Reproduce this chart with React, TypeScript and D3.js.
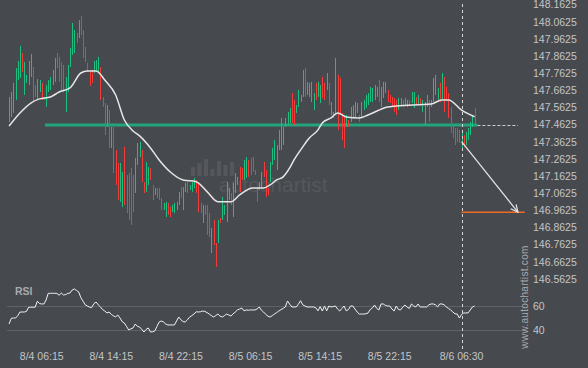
import React from 'react';
import * as d3 from 'd3';

const opens: number[] = [
147.474,147.503,147.527,147.603,147.719,147.731,147.877,147.632,147.702,147.690,
147.737,147.795,147.690,147.603,147.649,147.702,147.603,147.562,147.649,147.661,
147.690,147.708,147.877,147.854,147.824,147.807,147.533,147.649,147.795,147.865,
147.877,147.993,147.964,148.093,148.011,147.912,147.819,147.766,147.778,147.760,
147.766,147.766,147.795,147.620,147.585,147.445,147.544,147.323,147.445,147.311,
147.235,147.008,146.978,147.329,147.165,147.177,147.206,147.165,147.060,147.224,
147.270,147.311,147.124,147.066,147.107,147.206,147.107,147.048,147.089,147.089,
147.031,146.961,146.920,147.002,146.978,146.949,146.943,146.961,146.990,147.095,
146.961,147.066,147.124,147.078,147.066,147.089,147.136,147.119,147.002,146.885,
146.990,146.990,146.943,146.710,146.903,146.768,146.768,146.914,146.903,146.932,
146.891,147.019,147.060,146.920,147.060,147.107,147.212,147.206,147.136,147.148,
147.253,147.264,147.270,147.194,147.095,147.078,147.089,147.241,147.194,147.089,
147.124,147.224,147.253,147.194,147.311,147.311,147.340,147.445,147.457,147.468,
147.643,147.603,147.527,147.562,147.591,147.620,147.789,147.632,147.620,147.591,
147.544,147.702,147.620,147.585,147.737,147.702,147.661,147.702,147.515,147.498,
147.527,147.749,147.731,147.527,147.503,147.445,147.486,147.474,147.498,147.503,
147.527,147.515,147.503,147.544,147.556,147.573,147.591,147.591,147.603,147.620,
147.719,147.562,147.614,147.643,147.661,147.632,147.620,147.614,147.603,147.544,
147.573,147.603,147.573,147.562,147.603,147.585,147.556,147.620,147.573,147.614,
147.533,147.457,147.562,147.603,147.562,147.591,147.632,147.603,147.702,147.603,
147.737,147.679,147.643,147.562,147.457,147.439,147.439,147.428,147.323,147.398,
147.340,147.369,147.398,147.445,147.556
];

const closes: number[] = [
147.620,147.649,147.702,147.789,147.830,147.918,147.766,147.824,147.749,147.830,
147.871,147.591,147.620,147.725,147.719,147.603,147.620,147.690,147.719,147.737,
147.778,147.848,147.789,147.708,147.661,147.649,147.737,147.807,147.906,148.052,
148.011,147.935,148.069,147.982,147.848,147.824,147.766,147.684,147.702,147.830,
147.836,147.854,147.603,147.562,147.398,147.573,147.323,147.445,147.177,147.107,
147.019,147.235,147.183,146.990,146.943,146.903,146.874,146.949,147.264,147.352,
147.358,147.124,147.060,147.241,147.212,147.136,147.019,147.089,147.031,147.019,
146.961,147.002,147.008,146.932,146.920,146.990,147.002,147.008,147.066,147.031,
147.095,147.119,147.060,147.107,147.124,147.148,147.060,146.949,146.943,146.990,
146.932,146.815,146.804,146.856,146.757,146.629,146.903,146.885,147.037,146.990,
147.124,147.089,146.990,147.119,147.177,147.154,147.066,147.136,147.253,147.270,
147.154,147.165,147.183,147.165,147.008,147.124,147.183,147.154,147.037,147.048,
147.241,147.323,147.369,147.340,147.428,147.498,147.445,147.498,147.533,147.556,
147.468,147.457,147.573,147.661,147.632,147.778,147.620,147.708,147.702,147.708,
147.643,147.603,147.708,147.690,147.614,147.603,147.760,147.573,147.591,147.533,
147.848,147.428,147.527,147.369,147.323,147.515,147.445,147.562,147.573,147.591,
147.585,147.474,147.591,147.603,147.632,147.643,147.679,147.673,147.690,147.679,
147.591,147.679,147.708,147.708,147.591,147.585,147.562,147.533,147.515,147.614,
147.614,147.562,147.614,147.603,147.573,147.649,147.649,147.573,147.632,147.573,
147.603,147.591,147.632,147.474,147.603,147.731,147.749,147.673,147.591,147.760,
147.533,147.603,147.498,147.410,147.381,147.340,147.358,147.352,147.410,147.329,
147.416,147.439,147.474,147.515,147.457
];

const rsiValues: number[] = [
45,49.7,50,50,52,55,55,55,55.5,58.9,
59,59,59,64,62,61.7,61.7,65,70.5,70.6,
70.6,70.6,70.5,69,70.8,69.2,69.5,70.5,70.8,73.3,
74.2,73,71.7,67,64,61,60,59,58.75,62,
63.3,61,59.2,57,55.8,54.2,55,53,51.7,51,
52.5,50,47,45.8,43,40,41,41.7,45,43,
42.5,40.5,38.3,40.5,41.7,38.3,38.5,39.2,43,46.7,
47.5,46.7,45,44.2,44.2,44.2,44.2,47.5,50.8,48.5,
47,46.7,48.5,50.8,52,53.3,55.2,55,55.2,55.8,
55.5,54.5,53.3,52,50.8,52,53.3,51.5,50.8,52,
53.3,52.5,51.7,53.5,55,56.7,57.5,58.3,56,56.7,
56.5,56.7,56.7,56.7,57.5,59.2,56.5,55,53,51.5,
50.8,52,53.3,54.5,55.8,57,58,59.2,64.2,61.5,
59.2,59.2,59.2,61.5,64.4,61,60,59.2,59.2,59.2,
59.2,58.5,56,59.5,55.8,60,56,60,59.2,59.5,
60,57.5,55.8,58,60,56,57,60,60,57.5,
55,53.3,53.3,53.3,53.5,54.2,57,58.3,60.8,58,
56.7,61.7,61.7,60.5,60,60,57.5,55.8,60,57,
56.7,59.2,60.8,59,58,61.7,60,59.2,61.7,59.2,
59.2,59.2,59.2,61,61.7,61.7,61,59.2,61.7,61.7,
61,59.2,58,56.7,55,53.5,53.3,50,53,54.2,
54.2,54.2,56.7,59.2,60
];

const maPoints: [number, number][] = [
[0,147.451],[5,147.527],[10,147.585],[14,147.609],[19,147.620],[23,147.649],[28,147.673],
[33,147.760],[36,147.772],[40,147.772],[44,147.719],[49,147.632],[53,147.486],[57,147.422],
[60,147.393],[65,147.323],[69,147.253],[74,147.184],[80,147.136],[86,147.126],[91,147.068],
[96,147.009],[102,147.009],[106,147.049],[112,147.089],[117,147.089],[120,147.107],[123,147.136],
[126,147.154],[129,147.206],[131,147.253],[135,147.329],[138,147.381],[142,147.428],[144,147.469],
[148,147.498],[151,147.527],[155,147.504],[161,147.498],[165,147.515],[174,147.562],[178,147.568],
[194,147.579],[199,147.603],[202,147.603],[208,147.544],[214,147.505]
];

const priceTicks: string[] = [
'148.1625','148.0625','147.9625','147.8625','147.7625','147.6625','147.5625','147.4625',
'147.3625','147.2625','147.1625','147.0625','146.9625','146.8625','146.7625','146.6625','146.5625'
];
const rsiTicks: number[] = [60, 40];
const timeLabels: string[] = ['8/4 06:15','8/4 14:15','8/4 22:15','8/5 06:15','8/5 14:15','8/5 22:15','8/6 06:30'];
const timeLabelIdx: number[] = [15, 47, 79, 111, 143, 175, 208];

const supportLevel = 147.456;
const supportStartIdx = 16.5;
const patternEndIdx = 208;
const forecastStart: [number, number] = [208, 147.36];
const forecastEnd: [number, number] = [233.9, 146.948];
const targetEndIdx = 237;
const levelLineEndIdx = 215.3;

const BG = '#46494e';
const TXT = '#c3c5c7';
const GREEN = '#1bbf80';
const RED = '#f53a3a';
const FONT = '"Liberation Sans", Arial, sans-serif';

export default function App() {
  const x = d3.scaleLinear().domain([0, 214]).range([9.07, 474.6]);
  const y = d3.scaleLinear().domain([146.5625, 148.1625]).range([278.3, 4]);
  const yR = d3.scaleLinear().domain([40, 60]).range([330, 306]);

  const maLine = d3.line<[number, number]>()
    .x(d => x(d[0])).y(d => y(d[1])).curve(d3.curveMonotoneX)(maPoints) || '';
  const rsiLine = d3.line<number>()
    .x((_, i) => x(i)).y(d => yR(d))(rsiValues) || '';

  const ax = x(forecastStart[0]), ay = y(forecastStart[1]);
  const bx = x(forecastEnd[0]), by = y(forecastEnd[1]);
  const ang = Math.atan2(by - ay, bx - ax);
  const hl = 8, ha = 0.45;
  const h1 = [bx - hl * Math.cos(ang - ha), by - hl * Math.sin(ang - ha)];
  const h2 = [bx - hl * Math.cos(ang + ha), by - hl * Math.sin(ang + ha)];

  const vx = Math.round(x(patternEndIdx)) + 0.5;
  const levelY = y(supportLevel);
  const iconBars = [9, 13, 17, 7, 15, 11, 14];

  return (
    <svg width={588} height={368} style={{ position: 'absolute', left: 0, top: 0 }} fontFamily={FONT}>
      <rect x={0} y={0} width={588} height={368} fill={BG} />
      <g fill="#ffffff" opacity={0.08}>
        {iconBars.map((h, k) => (
          <rect key={k} x={191 + k * 6.5} y={176 - h} width={4} height={h} />
        ))}
        <text x={219} y={192} fontSize={21} fill="#ffffff">autochartist</text>
      </g>
      {rsiTicks.map(t => (
        <line key={t} x1={7} x2={525} y1={Math.round(yR(t)) + 0.5} y2={Math.round(yR(t)) + 0.5} stroke="#5f6266" strokeWidth={1} />
      ))}
      <line x1={x(supportStartIdx)} x2={x(levelLineEndIdx)} y1={levelY} y2={levelY} stroke="#23a57c" strokeWidth={3} />
      <line x1={x(levelLineEndIdx)} x2={518} y1={Math.round(levelY) + 0.5} y2={Math.round(levelY) + 0.5} stroke="#cfcfcf" strokeWidth={1} strokeDasharray="3,2" />
      {opens.map((o, i) => {
        const c = closes[i];
        const top = y(Math.max(o, c));
        const bot = y(Math.min(o, c));
        return (
          <rect key={i} x={Math.round(x(i))} y={top} width={1} height={Math.max(1, bot - top)} fill={c >= o ? GREEN : RED} />
        );
      })}
      <path d={maLine} fill="none" stroke="#e6e6e6" strokeWidth={1.5} />
      <line x1={vx} x2={vx} y1={4} y2={350} stroke="#d6d6d6" strokeWidth={1} strokeDasharray="3,3" />
      <line x1={x(patternEndIdx)} x2={x(targetEndIdx)} y1={y(forecastEnd[1])} y2={y(forecastEnd[1])} stroke="#f26a25" strokeWidth={1.5} />
      <line x1={ax} y1={ay} x2={bx} y2={by} stroke="#e8e8e8" strokeWidth={1.2} />
      <path d={`M${h1[0]},${h1[1]}L${bx},${by}L${h2[0]},${h2[1]}`} fill="none" stroke="#e8e8e8" strokeWidth={1.2} />
      <path d={rsiLine} fill="none" stroke="#f2f2f2" strokeWidth={1} />
      <text x={15} y={295} fontSize={10.5} fontWeight="bold" fill="#a9abae">RSI</text>
      {priceTicks.map(t => (
        <text key={t} x={533} y={y(+t)} dy="0.42em" fontSize={10.5} fill={TXT}>{t}</text>
      ))}
      {rsiTicks.map(t => (
        <text key={t} x={533} y={yR(t)} dy="0.38em" fontSize={10.5} fill={TXT}>{t}</text>
      ))}
      {timeLabels.map((t, k) => (
        <text key={t} x={x(timeLabelIdx[k])} y={360} textAnchor="middle" fontSize={10.5} fill={TXT}>{t}</text>
      ))}
      <text transform="translate(528,297) rotate(-90)" textAnchor="middle" fontSize={10} letterSpacing={0.3} fill="#a8aaad">www.autochartist.com</text>
    </svg>
  );
}
